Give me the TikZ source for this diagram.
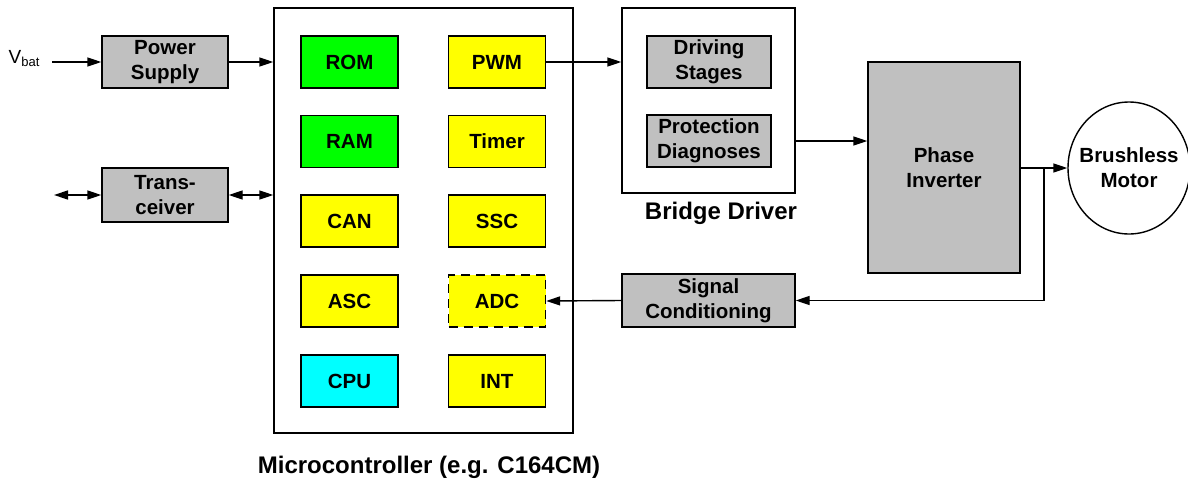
\documentclass[tikz,border=0pt]{standalone}
\usepackage{fontspec}
\setmainfont{Liberation Sans}
\usetikzlibrary{arrows.meta,shapes.geometric}
\definecolor{boxgray}{HTML}{C0C0C0}
\definecolor{romgreen}{HTML}{00FF00}
\definecolor{unityellow}{HTML}{FFFF00}
\definecolor{cpucyan}{HTML}{00FFFF}
\begin{document}
\begin{tikzpicture}[x=1pt,y=-1pt,
  font=\fontsize{20.5}{25}\selectfont\bfseries,
  every path/.style={line width=1.4pt},
  tip/.style={-{Triangle[length=14pt,width=9pt]}},
  twotip/.style={{Triangle[length=14pt,width=9pt]}-{Triangle[length=14pt,width=9pt]}},
  blk/.style={draw,rectangle,align=center,inner sep=0pt},
  graybox/.style={blk,fill=boxgray},
  unit/.style={blk,minimum width=97pt,minimum height=52pt},
  frame/.style={draw,rectangle,inner sep=0pt},
  caption/.style={font=\fontsize{24}{28}\selectfont\bfseries}]
  \useasboundingbox (0,0) rectangle (1188,485); % Bildgroesse

  % links
  \node[font=\fontsize{19}{24}\selectfont] (vbat) at (24,59) {V\raisebox{-0.3ex}{\fontsize{13}{14}\selectfont bat}};
  \coordinate (vin) at (52,62);
  \node[graybox,minimum width=126pt,minimum height=52pt] (ps) at (165,62) {Power\\Supply};
  \node[graybox,minimum width=126pt,minimum height=54pt] (tr) at (165,195) {Trans-\\ceiver};
  \coordinate (bus) at (54,195);

  % Mikrocontroller
  \node[frame,minimum width=299pt,minimum height=425pt] (uc) at (423.5,220.5) {};
  \node[unit,fill=romgreen]   (rom) at (349.5,62) {ROM};
  \node[unit,fill=romgreen]   (ram) at (349.5,141.5) {RAM};
  \node[unit,fill=unityellow] (can) at (349.5,221) {CAN};
  \node[unit,fill=unityellow] (asc) at (349.5,301) {ASC};
  \node[unit,fill=cpucyan]    (cpu) at (349.5,381) {CPU};
  \node[unit,fill=unityellow] (pwm) at (497,62) {PWM};
  \node[unit,fill=unityellow] (tim) at (497,141.5) {Timer};
  \node[unit,fill=unityellow] (ssc) at (497,221) {SSC};
  \node[unit,fill=unityellow,dashed,dash pattern=on 9pt off 6pt] (adc) at (497,301) {ADC};
  \node[unit,fill=unityellow] (int) at (497,381) {INT};
  \node[caption] (uclabel) at (429,467) {Microcontroller (e.g. C164CM)};

  % Brueckentreiber
  \node[frame,minimum width=173pt,minimum height=185pt] (bd) at (708.5,100.5) {};
  \node[graybox,minimum width=124pt,minimum height=52pt] (drv) at (709,62) {Driving\\Stages};
  \node[graybox,minimum width=124pt,minimum height=52pt] (prot) at (709,141) {Protection\\Diagnoses};
  \node[caption] (bdlabel) at (721,213) {Bridge Driver};
  \node[graybox,minimum width=173pt,minimum height=53pt] (sc) at (708.5,300.5) {Signal\\Conditioning};

  % rechts
  \node[graybox,minimum width=152pt,minimum height=211pt] (pi) at (944,167.5) {Phase\\Inverter};
  \node[draw,ellipse,minimum width=122pt,minimum height=132pt,inner xsep=-16pt,inner ysep=0pt,align=center] (mot) at (1129,168) {Brushless\\Motor};
  \coordinate (tap) at (1044,168);

  % Verbindungen
  \draw[tip] (vin) -- (ps.west);
  \draw[tip] (ps.east) -- (ps.east -| uc.west);
  \draw[twotip] (bus) -- (tr.west);
  \draw[twotip] (tr.east) -- (tr.east -| uc.west);
  \draw[tip] (pwm.east) -- (pwm.east -| bd.west);
  \draw[tip] (prot.east -| bd.east) -- (prot.east -| pi.west);
  \draw[tip] (pi.east |- tap) -- (mot.west |- tap);
  \draw[tip] (tap) |- (sc.east);
  \draw[tip] (sc.west) -- (adc.east);

\end{tikzpicture}
\end{document}
